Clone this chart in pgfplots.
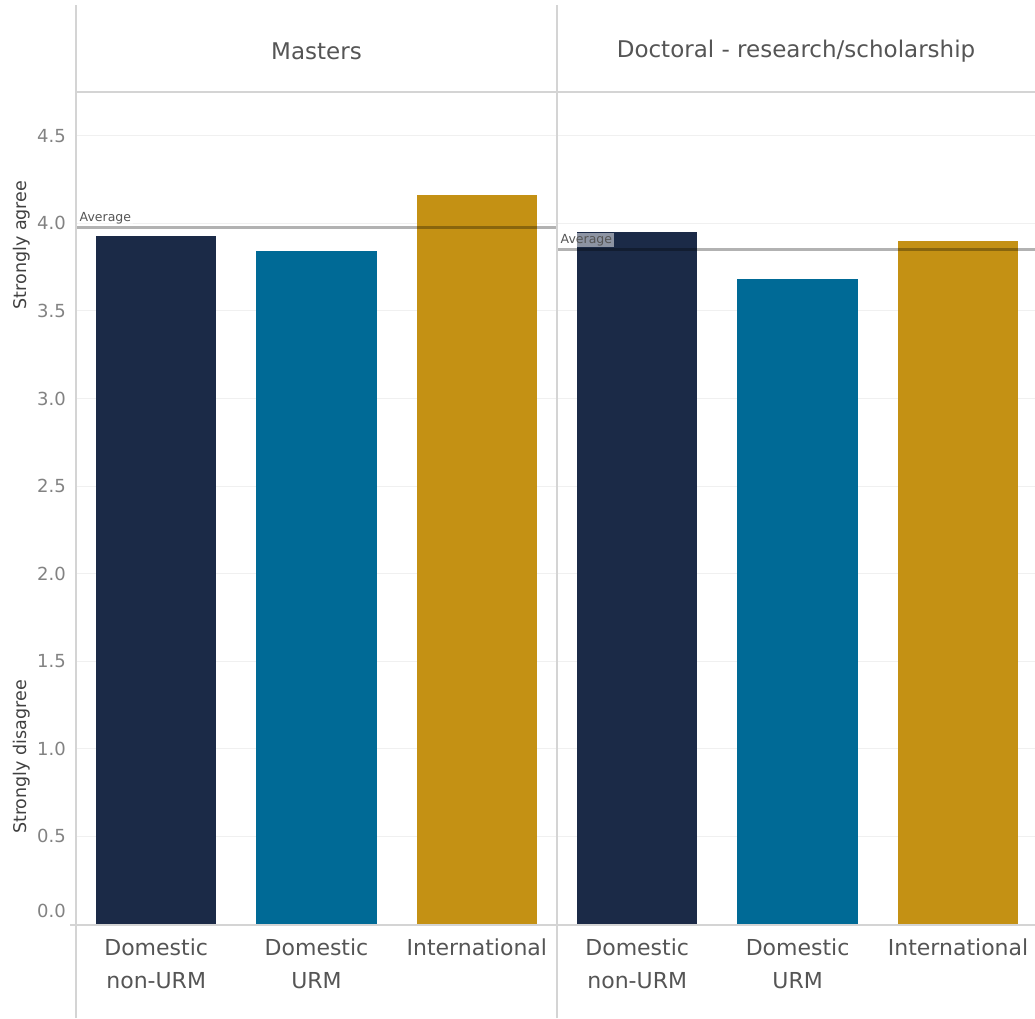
\documentclass[border=0pt]{standalone}
\usepackage{pgfplots}
\pgfplotsset{compat=1.18}
\usepackage{fontspec}
\setmainfont{DejaVu Sans}
\definecolor{cNavy}{RGB}{27,42,71}
\definecolor{cTeal}{RGB}{0,106,150}
\definecolor{cGold}{RGB}{196,145,20}
\definecolor{frame}{RGB}{212,212,212}
\definecolor{gridc}{RGB}{240,240,240}
\definecolor{txtdark}{RGB}{85,85,85}
\definecolor{txttick}{RGB}{130,130,130}
\pgfplotsset{
  panel/.style={
    scale only axis,
    anchor=south west,
    height=833pt,
    ymin=-0.0057, ymax=4.75,
    xmin=-0.5,
    axis line style={draw=none},
    major tick length=0pt,
    ytick={0.5,1,...,4.5},
    ymajorgrids,
    grid style={gridc, line width=1pt},
    xtick={0,1,2},
    xticklabels={{Domestic\\non-URM},{Domestic\\URM},{International}},
    xticklabel style={align=center, font=\fontsize{22}{33}\selectfont, text=txtdark, anchor=north, inner sep=0pt, yshift=-14pt},
    ybar, bar width=0.75,
    title style={at={(0.5,1)}, anchor=center, yshift=35pt, font=\fontsize{23}{28}\selectfont, text=txtdark},
    clip=true,
  },
  avgline/.style={sharp plot, no marks, draw=black, draw opacity=0.3, line width=2.5pt, forget plot},
}
\begin{document}
\begin{tikzpicture}
\useasboundingbox (0,0) rectangle (1035pt,1018pt);
% panel 1
\begin{axis}[panel, at={(76pt,93pt)}, width=481pt, xmax=2.5,
  title={Masters},
  yticklabel style={font=\fontsize{18}{20}\selectfont, text=txttick, anchor=east, inner sep=0pt, xshift=-10pt},
  /pgf/number format/.cd, fixed, fixed zerofill, precision=1, assume math mode=true,
  /pgfplots/.cd,
  extra y ticks={0},
  extra y tick style={ymajorgrids=false, yticklabel style={yshift=13pt}},
]
\addplot[fill=cNavy, draw=none, bar shift=0pt] coordinates {(0,3.93)};
\addplot[fill=cTeal, draw=none, bar shift=0pt] coordinates {(1,3.84)};
\addplot[fill=cGold, draw=none, bar shift=0pt] coordinates {(2,4.16)};
\addplot[avgline] coordinates {(-0.5,3.975) (2.5,3.975)};
\node[anchor=south west, font=\fontsize{12.5}{14}\selectfont, text=txtdark, fill=white, fill opacity=0.5, text opacity=1, inner sep=1.5pt, xshift=2pt, yshift=2pt] at (axis cs:-0.5,3.975) {Average};
\end{axis}
% panel 2
\begin{axis}[panel, at={(557pt,93pt)}, width=478pt, xmax=2.48,
  title={Doctoral - research/scholarship},
  yticklabels={},
]
\addplot[fill=cNavy, draw=none, bar shift=0pt] coordinates {(0,3.95)};
\addplot[fill=cTeal, draw=none, bar shift=0pt] coordinates {(1,3.68)};
\addplot[fill=cGold, draw=none, bar shift=0pt] coordinates {(2,3.90)};
\addplot[avgline] coordinates {(-0.5,3.85) (2.5,3.85)};
\node[anchor=south west, font=\fontsize{12.5}{14}\selectfont, text=txtdark, fill=white, fill opacity=0.5, text opacity=1, inner sep=1.5pt, xshift=2pt, yshift=2pt] at (axis cs:-0.5,3.85) {Average};
\end{axis}
% frame lines
\draw[frame, line width=1.2pt] (76pt,0pt) -- (76pt,1013pt);
\draw[frame, line width=1.2pt] (557pt,0pt) -- (557pt,1013pt);
\draw[frame, line width=1.2pt] (76pt,926pt) -- (1035pt,926pt);
\draw[frame, line width=1.2pt] (70pt,93pt) -- (1035pt,93pt);
% side labels
\node[rotate=90, font=\fontsize{17.5}{20}\selectfont, text=black!75] at (22pt,773pt) {Strongly agree};
\node[rotate=90, font=\fontsize{17.5}{20}\selectfont, text=black!75] at (22pt,261pt) {Strongly disagree};
\end{tikzpicture}
\end{document}
